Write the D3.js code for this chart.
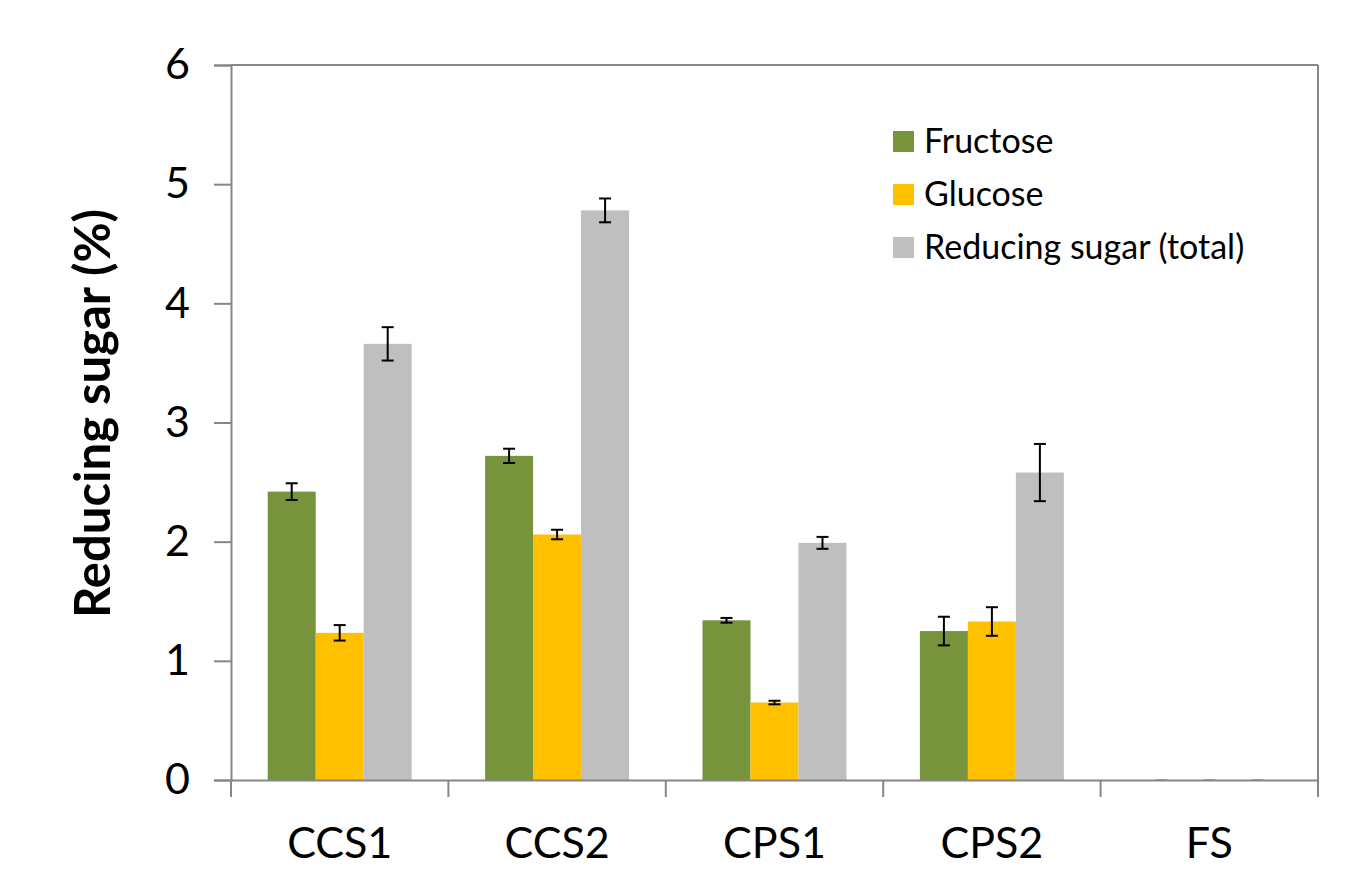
<!DOCTYPE html>
<html>
  <head>
    <title>Reducing sugar bar chart</title>
  </head>
  <body>
    <style>
      body, html { margin: 0; padding: 0; background: #fff; }
      svg { display: block; font-family: Lato, 'Open Sans', sans-serif; }
    </style>

    <svg id="svg" width="1358" height="882"></svg>

    <script src="https://cdn.jsdelivr.net/npm/d3@7"></script>
    <script>
      const categories = ['CCS1', 'CCS2', 'CPS1', 'CPS2', 'FS'];
      const seriesNames = ['Fructose', 'Glucose', 'Reducing sugar (total)'];
      const seriesColors = ['#77933C', '#FFC000', '#BFBFBF'];
      const fructose = [2.42, 2.72, 1.34, 1.25, 0];
      const glucose = [1.235, 2.06, 0.65, 1.33, 0];
      const totalSugar = [3.66, 4.78, 1.99, 2.58, 0];
      const fructoseErr = [0.07, 0.06, 0.02, 0.12, 0];
      const glucoseErr = [0.065, 0.04, 0.015, 0.12, 0];
      const totalErr = [0.14, 0.1, 0.05, 0.24, 0];
      const yTicks = [0, 1, 2, 3, 4, 5, 6];

      const values = [fructose, glucose, totalSugar];
      const errors = [fructoseErr, glucoseErr, totalErr];

      const plotLeft = 231, plotRight = 1318, plotTop = 65, plotBottom = 780;
      const axisColor = '#868686';

      const svg = d3.select('#svg');

      const xscale = d3.scaleBand()
        .domain(categories)
        .range([plotLeft, plotRight])
        .paddingInner(0)
        .paddingOuter(0);

      const inner = d3.scaleBand()
        .domain(seriesNames)
        .range([0, xscale.bandwidth()])
        .paddingOuter(0.765)
        .paddingInner(0);

      const yscale = d3.scaleLinear()
        .domain([0, 6])
        .range([plotBottom, plotTop]);

      // bars
      seriesNames.forEach((name, si) => {
        svg.append('g')
          .selectAll('rect')
          .data(categories)
          .join('rect')
          .attr('x', d => xscale(d) + inner(name))
          .attr('y', (d, i) => yscale(values[si][i]))
          .attr('width', inner.bandwidth())
          .attr('height', (d, i) => plotBottom - yscale(values[si][i]))
          .attr('fill', seriesColors[si]);
      });

      // error bars
      seriesNames.forEach((name, si) => {
        const g = svg.append('g')
          .attr('stroke', '#000')
          .attr('stroke-width', 2);
        categories.forEach((c, i) => {
          const cx = xscale(c) + inner(name) + inner.bandwidth() / 2;
          const hi = yscale(values[si][i] + errors[si][i]);
          const lo = yscale(values[si][i] - errors[si][i]);
          if (values[si][i] === 0) {
            g.append('line')
              .attr('x1', cx - 6).attr('x2', cx + 6)
              .attr('y1', hi).attr('y2', hi)
              .attr('stroke', '#aaa');
            return;
          }
          g.append('line').attr('x1', cx).attr('x2', cx).attr('y1', hi).attr('y2', lo);
          g.append('line').attr('x1', cx - 6).attr('x2', cx + 6).attr('y1', hi).attr('y2', hi);
          g.append('line').attr('x1', cx - 6).attr('x2', cx + 6).attr('y1', lo).attr('y2', lo);
        });
      });

      // plot border (top and right)
      svg.append('line')
        .attr('x1', plotLeft).attr('x2', plotRight).attr('y1', plotTop).attr('y2', plotTop)
        .attr('stroke', axisColor).attr('stroke-width', 2);
      svg.append('line')
        .attr('x1', plotRight).attr('x2', plotRight).attr('y1', plotTop).attr('y2', plotBottom)
        .attr('stroke', axisColor).attr('stroke-width', 2);

      // y axis
      const leftAxis = d3.axisLeft(yscale)
        .tickValues(yTicks)
        .tickFormat(d3.format('d'))
        .tickSize(17)
        .tickPadding(24);
      const yAxisG = svg.append('g')
        .attr('transform', `translate(${plotLeft}, 0)`)
        .call(leftAxis);
      yAxisG.select('.domain').attr('stroke', axisColor).attr('stroke-width', 2);
      yAxisG.selectAll('.tick line').attr('stroke', axisColor).attr('stroke-width', 2);
      yAxisG.selectAll('.tick text')
        .attr('font-size', 43)
        .attr('font-family', 'Lato, sans-serif')
        .attr('fill', '#000');

      // x axis: ticks at category boundaries
      const bottomAxis = d3.axisBottom(xscale).tickSize(0).tickPadding(47);
      const xAxisG = svg.append('g')
        .attr('transform', `translate(0, ${plotBottom})`)
        .call(bottomAxis);
      xAxisG.select('.domain').attr('stroke', axisColor).attr('stroke-width', 2);
      xAxisG.selectAll('.tick text')
        .attr('font-size', 43)
        .attr('font-family', 'Lato, sans-serif')
        .attr('fill', '#000');
      const boundaries = categories.map(c => xscale(c)).concat([xscale.range()[1]]);
      xAxisG.selectAll('.boundary')
        .data(boundaries)
        .join('line')
        .attr('class', 'boundary')
        .attr('x1', d => d).attr('x2', d => d)
        .attr('y1', 0).attr('y2', 17)
        .attr('stroke', axisColor).attr('stroke-width', 2);

      // y title
      svg.append('text')
        .attr('transform', `translate(110, ${(plotTop + plotBottom) / 2 - 9}) rotate(-90)`)
        .attr('text-anchor', 'middle')
        .attr('font-size', 49)
        .attr('font-weight', 'bold')
        .attr('fill', '#000')
        .text('Reducing sugar (%)');

      // legend
      const legend = svg.append('g').attr('transform', 'translate(893, 131)');
      seriesNames.forEach((name, i) => {
        const row = legend.append('g').attr('transform', `translate(0, ${i * 53})`);
        row.append('rect')
          .attr('width', 21).attr('height', 21)
          .attr('fill', seriesColors[i]);
        row.append('text')
          .attr('x', 31).attr('y', 10.5)
          .attr('dy', '0.35em')
          .attr('font-size', 34)
          .attr('fill', '#000')
          .text(name);
      });
    </script>
  </body>
</html>
